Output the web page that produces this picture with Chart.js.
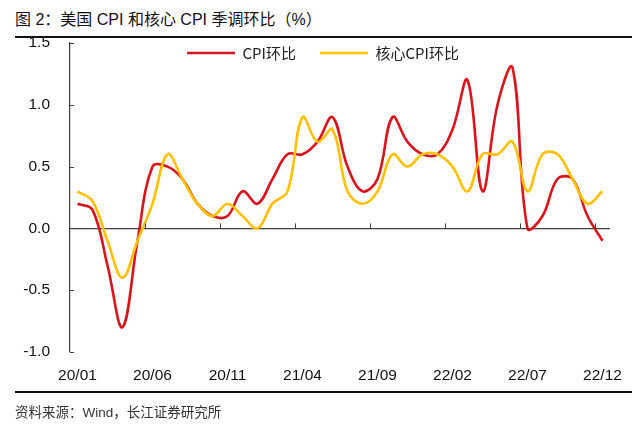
<!DOCTYPE html>
<html>
<head>
<meta charset="utf-8">
<script src="https://cdn.jsdelivr.net/npm/chart.js@4/dist/chart.umd.min.js"></script>
<style>
  html, body { margin: 0; padding: 0; background: #fff; }
  body { width: 640px; height: 429px; position: relative; overflow: hidden; }
  #c { position: absolute; left: 0; top: 0; }
  .title { position: absolute; left: 15px; top: 6px; font: 16px "Liberation Sans", "Noto Sans CJK SC", sans-serif; color: #111; white-space: nowrap; }
  .rule { position: absolute; left: 15px; width: 617px; height: 2px; background: #111; }
  .src { position: absolute; left: 15px; top: 401px; font: 13.5px "Liberation Sans", "Noto Sans CJK SC", sans-serif; color: #333; white-space: nowrap; }
</style>
</head>
<body>
<div class="title">图 2：美国 CPI 和核心 CPI 季调环比（%）</div>
<div class="rule" style="top:36px"></div>
<canvas id="c" width="640" height="429"></canvas>
<div class="rule" style="top:391px"></div>
<div class="src">资料来源：Wind，长江证券研究所</div>
<script>
const categories = ["20/01","20/02","20/03","20/04","20/05","20/06","20/07","20/08","20/09","20/10","20/11","20/12",
                    "21/01","21/02","21/03","21/04","21/05","21/06","21/07","21/08","21/09","21/10","21/11","21/12",
                    "22/01","22/02","22/03","22/04","22/05","22/06","22/07","22/08","22/09","22/10","22/11","22/12"];
const cpiMoM  = [0.2, 0.15, -0.3, -0.8, -0.1, 0.5, 0.5, 0.4, 0.2, 0.1, 0.1, 0.3,
                 0.2, 0.4, 0.6, 0.6, 0.7, 0.9, 0.5, 0.3, 0.4, 0.9, 0.7, 0.6,
                 0.6, 0.8, 1.2, 0.3, 1.0, 1.3, 0.0, 0.1, 0.4, 0.4, 0.1, -0.1];
const coreMoM = [0.3, 0.22, -0.1, -0.4, -0.1, 0.2, 0.6, 0.4, 0.2, 0.1, 0.2, 0.1,
                 0.0, 0.2, 0.3, 0.9, 0.7, 0.8, 0.3, 0.2, 0.3, 0.6, 0.5, 0.6,
                 0.6, 0.5, 0.3, 0.6, 0.6, 0.7, 0.3, 0.6, 0.6, 0.4, 0.2, 0.3];
const seriesNames = ["CPI环比", "核心CPI环比"];
const yTicks = [1.5, 1.0, 0.5, 0.0, -0.5, -1.0];
const labelStep = 5;

const RED = '#D9141C', GOLD = '#FFC000', AXIS = '#404040';
const FONT = '"Liberation Sans", "Noto Sans CJK SC", sans-serif';
const LEGEND_PAD = 24;

const decor = {
  id: 'decor',
  afterLayout(chart) {
    const lg = chart.legend;
    if (lg) {
      lg.top = 53 - 7.5 - LEGEND_PAD;
      lg.height = 60;
      lg.bottom = lg.top + lg.height;
      lg.left += 18; lg.right += 18;
    }
  },
  afterDatasetsDraw(chart) {
    const ctx = chart.ctx, x = chart.scales.x, y = chart.scales.y;
    const y0 = y.getPixelForValue(0);
    const half = (x.getPixelForValue(1) - x.getPixelForValue(0)) / 2;
    ctx.save();
    ctx.strokeStyle = AXIS; ctx.lineWidth = 1;
    for (let i = labelStep; i < categories.length; i += labelStep) {
      const px = Math.round(x.getPixelForValue(i) - half) + 0.5;
      ctx.beginPath(); ctx.moveTo(px, y0); ctx.lineTo(px, y0 - 5); ctx.stroke();
    }
    const ax = chart.chartArea.left;
    yTicks.forEach(v => {
      const py = Math.round(y.getPixelForValue(v)) + 0.5;
      ctx.beginPath(); ctx.moveTo(ax, py); ctx.lineTo(ax + 4, py); ctx.stroke();
    });
    ctx.restore();
  }
};

new Chart(document.getElementById('c'), {
  type: 'line',
  data: {
    labels: categories,
    datasets: [
      { label: seriesNames[0], data: cpiMoM, borderColor: RED, backgroundColor: RED, borderWidth: 2.6, pointRadius: 0, tension: 0.38, order: 1 },
      { label: seriesNames[1], data: coreMoM, borderColor: GOLD, backgroundColor: GOLD, borderWidth: 2.6, pointRadius: 0, tension: 0.38, order: 0 }
    ]
  },
  options: {
    responsive: false,
    animation: false,
    events: [],
    layout: { padding: { left: 0, right: 30, top: 9, bottom: 0 } },
    plugins: {
      tooltip: { enabled: false },
      legend: {
        position: 'top',
        align: 'center',
        maxHeight: 34,
        labels: {
          boxWidth: 48, boxHeight: 0, padding: LEGEND_PAD,
          color: '#222',
          font: { family: '"Noto Sans CJK SC", ' + FONT, size: 15 },
          sort: (a, b) => a.datasetIndex - b.datasetIndex
        }
      }
    },
    scales: {
      x: {
        type: 'category',
        offset: true,
        grid: { display: false, offset: true },
        border: { display: false },
        ticks: {
          autoSkip: false, maxRotation: 0, padding: 6,
          color: '#111', font: { family: FONT, size: 15.5 },
          callback: (v, i) => (i % labelStep === 0 ? categories[i] : null)
        },
        afterFit: (s) => { s.height = 77; }
      },
      y: {
        min: -1.0, max: 1.5,
        afterBuildTicks: (s) => { s.ticks = yTicks.map(v => ({ value: v })); },
        grid: {
          drawTicks: false,
          color: (c) => (c.tick && c.tick.value === 0 ? AXIS : 'rgba(0,0,0,0)'),
          lineWidth: 1.2
        },
        border: { display: true, color: AXIS, width: 1.2 },
        ticks: {
          padding: 20, color: '#111', font: { family: FONT, size: 15.5 },
          callback: (v) => Number(v).toFixed(1)
        },
        afterFit: (s) => { s.width = 70; }
      }
    }
  },
  plugins: [decor]
});
</script>
</body>
</html>
